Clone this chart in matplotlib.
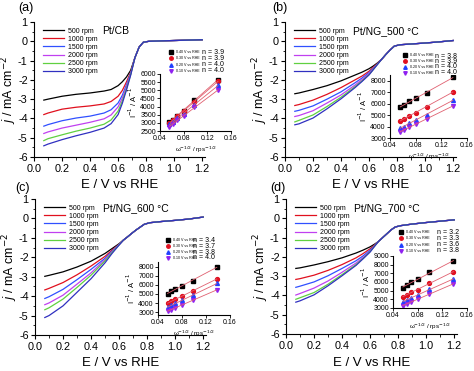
import numpy as np
import matplotlib
matplotlib.use('Agg')
import matplotlib.pyplot as plt
from matplotlib.ticker import MultipleLocator

plt.rcParams['font.family'] = ['Liberation Sans', 'DejaVu Sans']
plt.rcParams['axes.unicode_minus'] = False

# potential grid (V vs RHE)
E = [0.07, 0.1, 0.2, 0.3, 0.4, 0.5, 0.55, 0.6, 0.63, 0.66, 0.69, 0.72, 0.75, 0.78, 0.82, 0.9, 1.0, 1.1, 1.2]
rpm_labels = ['500 rpm', '1000 rpm', '1500 rpm', '2000 rpm', '2500 rpm', '3000 rpm']

# (a) Pt/CB
a_tail = [-0.85, -0.3, -0.05, 0.0, 0.02, 0.04, 0.06, 0.08]
a_500 = [-3.05, -3.0, -2.85, -2.75, -2.68, -2.58, -2.5, -2.3, -2.1, -1.85, -1.5] + a_tail
a_1000 = [-3.8, -3.72, -3.52, -3.42, -3.35, -3.25, -3.12, -2.85, -2.55, -2.1, -1.6] + a_tail
a_1500 = [-4.4, -4.32, -4.12, -3.98, -3.88, -3.72, -3.55, -3.2, -2.8, -2.25, -1.65] + a_tail
a_2000 = [-4.78, -4.7, -4.5, -4.35, -4.2, -4.02, -3.82, -3.4, -2.95, -2.35, -1.7] + a_tail
a_2500 = [-5.15, -5.05, -4.85, -4.66, -4.5, -4.3, -4.08, -3.62, -3.1, -2.45, -1.72] + a_tail
a_3000 = [-5.42, -5.33, -5.1, -4.9, -4.72, -4.5, -4.27, -3.8, -3.22, -2.52, -1.75] + a_tail

# (b) Pt/NG_500
b_tail = [-0.93, -0.68, -0.45, -0.25, -0.18, -0.14, -0.09, -0.03, 0.04]
b_500 = [-2.72, -2.68, -2.5, -2.3, -2.05, -1.75, -1.6, -1.42, -1.28, -1.12] + b_tail
b_1000 = [-3.33, -3.28, -3.05, -2.75, -2.4, -2.0, -1.8, -1.55, -1.35, -1.15] + b_tail
b_1500 = [-3.63, -3.58, -3.35, -3.0, -2.62, -2.15, -1.9, -1.62, -1.4, -1.17] + b_tail
b_2000 = [-3.9, -3.85, -3.6, -3.2, -2.78, -2.27, -1.98, -1.67, -1.43, -1.18] + b_tail
b_2500 = [-4.18, -4.1, -3.82, -3.38, -2.9, -2.35, -2.05, -1.72, -1.46, -1.19] + b_tail
b_3000 = [-4.33, -4.28, -3.98, -3.5, -2.98, -2.4, -2.08, -1.74, -1.47, -1.2] + b_tail

# (c) Pt/NG_600
c_tail = [-1.12, -0.95, -0.77, -0.6, -0.45, -0.3, -0.22, -0.16, -0.1, -0.03, 0.07]
c_500 = [-2.98, -2.93, -2.75, -2.5, -2.2, -1.8, -1.55, -1.3] + c_tail
c_1000 = [-3.68, -3.6, -3.3, -2.9, -2.45, -1.95, -1.63, -1.33] + c_tail
c_1500 = [-4.12, -4.03, -3.65, -3.15, -2.62, -2.05, -1.68, -1.34] + c_tail
c_2000 = [-4.44, -4.35, -3.95, -3.38, -2.8, -2.12, -1.72, -1.35] + c_tail
c_2500 = [-4.7, -4.6, -4.15, -3.55, -2.92, -2.18, -1.75, -1.36] + c_tail
c_3000 = [-5.1, -5.0, -4.5, -3.8, -3.1, -2.28, -1.8, -1.37] + c_tail

# (d) Pt/NG_700
d_tail = [-1.2, -1.0, -0.8, -0.6, -0.45, -0.38, -0.3, -0.22, -0.15, -0.08]
d_500 = [-2.6, -2.57, -2.42, -2.25, -2.05, -1.8, -1.65, -1.48, -1.35] + d_tail
d_1000 = [-3.17, -3.13, -2.95, -2.7, -2.4, -2.05, -1.83, -1.58, -1.4] + d_tail
d_1500 = [-3.58, -3.52, -3.3, -2.98, -2.6, -2.2, -1.95, -1.65, -1.43] + d_tail
d_2000 = [-3.98, -3.9, -3.62, -3.25, -2.8, -2.32, -2.03, -1.7, -1.45] + d_tail
d_2500 = [-4.2, -4.12, -3.85, -3.42, -2.92, -2.4, -2.08, -1.73, -1.46] + d_tail
d_3000 = [-4.35, -4.28, -3.97, -3.5, -2.98, -2.44, -2.1, -1.75, -1.47] + d_tail

# Koutecky-Levich insets: omega^-1/2 for 500..3000 rpm
w_inv = [0.138, 0.098, 0.080, 0.069, 0.062, 0.056]
kl_labels = ['0.40 V vs RHE', '0.30 V vs RHE', '0.20 V vs RHE', '0.10 V vs RHE']
a_kl = [[5650, 4400, 3750, 3450, 3200, 3050],
        [5550, 4300, 3700, 3400, 3150, 3000],
        [5300, 4100, 3550, 3300, 3050, 2900],
        [5000, 3950, 3450, 3150, 2950, 2750]]
b_kl = [[8300, 6950, 6450, 6200, 5900, 5700],
        [7050, 5700, 5200, 4950, 4700, 4500],
        [6300, 5050, 4600, 4300, 4000, 3850],
        [5800, 4650, 4250, 3950, 3700, 3500]]
c_kl = [[7950, 6450, 5900, 5550, 5300, 5050],
        [6650, 5350, 4750, 4400, 4200, 4000],
        [6150, 4850, 4300, 4000, 3750, 3550],
        [5450, 4300, 3800, 3500, 3300, 3100]]
d_kl = [[8400, 7100, 6300, 6000, 5600, 5350],
        [7150, 5900, 5100, 4800, 4500, 4300],
        [6300, 5200, 4500, 4200, 3900, 3700],
        [5750, 4650, 4000, 3700, 3450, 3250]]
a_n = ['3.9', '3.9', '4.0', '4.0']
b_n = ['3.8', '3.9', '4.0', '4.0']
c_n = ['3.4', '3.7', '3.8', '4.0']
d_n = ['3.2', '3.3', '3.6', '3.8']

line_colors = ['#000000', '#e0101e', '#3050ff', '#c040f0', '#60d040', '#3030c0']
kl_colors = ['#000000', '#e01020', '#2040ff', '#9020f0']
kl_markers = ['s', 'o', '^', 'v']

W, H = 474, 371
fig = plt.figure(figsize=(W / 100, H / 100), dpi=100)


def px(l, t, w, h):
    return [l / W, 1 - (t + h) / H, w / W, h / H]


def panel(rect, curves, name, tag, tagpos, inset_rect, kl, nvals, iylim, iyticks, leg):
    ax = fig.add_axes(px(*rect))
    for y, c, lab in zip(curves, line_colors, rpm_labels):
        ax.plot(E, y, color=c, lw=0.9, label=lab)
    ax.set_xlim(0, 1.22)
    ax.set_ylim(-6, 1)
    ax.xaxis.set_minor_locator(MultipleLocator(0.1))
    ax.yaxis.set_major_locator(MultipleLocator(1))
    ax.yaxis.set_minor_locator(MultipleLocator(0.5))
    ax.set_xticks([0.0, 0.2, 0.4, 0.6, 0.8, 1.0, 1.2])
    ax.set_xticklabels(['0.0', '0.2', '0.4', '0.6', '0.8', '1.0', '1.2'])
    for s in ['top', 'right']:
        ax.spines[s].set_visible(False)
    ax.tick_params(labelsize=7.8, length=3, width=0.8, pad=2)
    ax.tick_params(axis='y', pad=1.5)
    ax.tick_params(which='minor', length=1.8, width=0.6)
    ax.set_xlabel('E / V vs RHE', fontsize=9.5, labelpad=4)
    ax.set_ylabel('$j$ / mA cm$^{-2}$', fontsize=9, labelpad=-0.5)
    ax.legend(fontsize=5, frameon=False, loc='upper left', bbox_to_anchor=(0.03, 0.99),
              handlelength=3.0, labelspacing=0.17, borderpad=0.1, handletextpad=0.6)
    ax.text(0.4, 0.97, name, transform=ax.transAxes, fontsize=7.5, va='top')
    fig.text(tagpos[0] / W, 1 - tagpos[1] / H, tag, fontsize=9, ha='center', va='center')

    ins = fig.add_axes(px(*inset_rect))
    for yv, c, m, lab in zip(kl, kl_colors, kl_markers, kl_labels):
        ins.plot(w_inv, yv, ls='none', marker=m, ms=2.8, color=c, mec=c, label=lab)
        k, b0 = np.polyfit(w_inv, yv, 1)
        xs = np.array([min(w_inv), max(w_inv)])
        ins.plot(xs, k * xs + b0, color='#e06070', lw=0.6)
    ins.set_xlim(0.04, 0.16)
    ins.set_ylim(*iylim)
    ins.set_xticks([0.04, 0.08, 0.12, 0.16])
    ins.set_xticklabels(['0.04', '0.08', '0.12', '0.16'])
    ins.set_yticks(iyticks)
    ins.set_yticklabels(['%d' % v for v in iyticks])
    ins.patch.set_alpha(0)
    for s in ['top', 'right']:
        ins.spines[s].set_visible(False)
    ins.tick_params(labelsize=5, length=2, width=0.6, pad=1)
    ins.set_xlabel('ω$^{-1/2}$ / rps$^{-1/2}$', fontsize=4.5, labelpad=1.5)
    ins.set_ylabel('I$^{-1}$ / A$^{-1}$', fontsize=5.5, labelpad=1)

    # inset legend and n values (pixel positions: marker x, n x, first row y, row step)
    mx, nx, y1, dy = leg
    fs = 2.6
    ins.legend(fontsize=fs, frameon=False, loc='upper left',
               bbox_to_anchor=((mx - 2) / W, 1 - (y1 - dy / 2) / H), bbox_transform=fig.transFigure,
               borderaxespad=0, borderpad=0, handlelength=0.8, handletextpad=0.8,
               labelspacing=(dy / 1.389 - fs) / fs, markerscale=0.9)
    for i, n in enumerate(nvals):
        fig.text(nx / W, 1 - (y1 + i * dy) / H, 'n = ' + n, fontsize=5, va='center')
    return ax


panel((34, 22, 171, 135), [a_500, a_1000, a_1500, a_2000, a_2500, a_3000], 'Pt/CB', '(a)', (26, 8),
      (160, 74, 71, 57), a_kl, a_n, (2500, 6000), list(range(2500, 6001, 500)), (172, 202, 53, 6))
panel((285, 22, 171, 135), [b_500, b_1000, b_1500, b_2000, b_2500, b_3000], 'Pt/NG_500 °C', '(b)', (280, 8),
      (390, 75, 77, 63), b_kl, b_n, (3000, 8500), list(range(3000, 8001, 1000)), (406, 435, 56, 5.5))
panel((35, 199, 171, 136), [c_500, c_1000, c_1500, c_2000, c_2500, c_3000], 'Pt/NG_600 °C', '(c)', (22, 188),
      (158, 262, 72, 53), c_kl, c_n, (2700, 8500), list(range(3000, 8001, 1000)), (169, 193, 241, 5.6))
panel((286, 199, 171, 135), [d_500, d_1000, d_1500, d_2000, d_2500, d_3000], 'Pt/NG_700 °C', '(d)', (278, 188),
      (393, 256, 74, 52), d_kl, d_n, (3000, 9000), list(range(3000, 9001, 1000)), (402, 437, 233, 6))

fig.savefig('out.png', dpi=100)
